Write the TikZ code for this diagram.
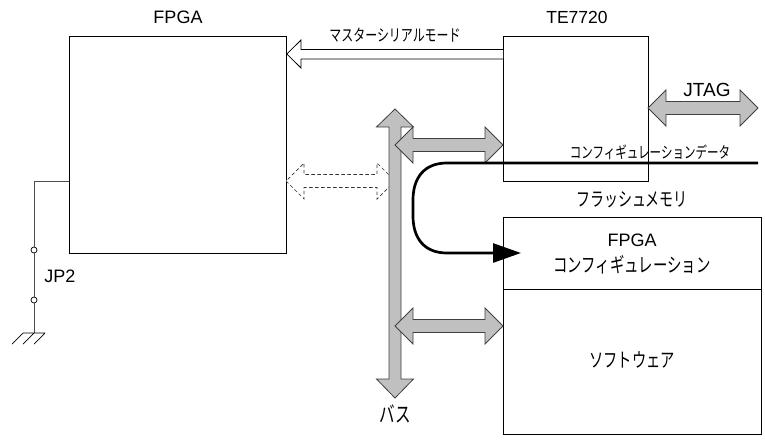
\documentclass[tikz,border=0pt]{standalone}
\usepackage{fontspec}
\setmainfont{Liberation Sans}
\newfontfamily\jpf[FakeStretch=0.72]{Noto Sans CJK JP}
\usetikzlibrary{arrows.meta}
\definecolor{busgray}{HTML}{C0C0C0}
\definecolor{busline}{HTML}{404040}
\tikzset{
  blockbox/.style={draw=black,line width=0.8pt,fill=white,inner sep=0pt,anchor=north west},
  lbl/.style={inner sep=0pt,text=black},
  wire/.style={draw=black!70,line width=0.9pt},
  pinhole/.style={circle,draw=black,line width=0.7pt,fill=white,inner sep=0pt,minimum size=6pt},
  fat/.style={draw=busline,line width=0.8pt,fill=busgray,line join=miter},
  hollow/.style={draw=black,line width=0.8pt,fill=white},
  dashfat/.style={draw=black!80,line width=0.7pt,fill=white,dash pattern=on 3.5pt off 2.5pt},
}
% horizontal double arrow: left tip, right tip, centre y, style
\newcommand{\hdouble}[4]{%
  \draw[#4] (#1,#3) -- (#1+18,#3-18) -- (#1+18,#3-6.5) -- (#2-18,#3-6.5) -- (#2-18,#3-18)
    -- (#2,#3) -- (#2-18,#3+18) -- (#2-18,#3+6.5) -- (#1+18,#3+6.5) -- (#1+18,#3+18) -- cycle;}
\begin{document}
\begin{tikzpicture}[x=1pt,y=1pt]
\useasboundingbox (0,0) rectangle (765,-439);
% boxes
\node[blockbox,minimum width=217pt,minimum height=217pt] (fpga) at (69,-36) {};
\node[blockbox,minimum width=145pt,minimum height=145pt] (te) at (503,-36) {};
\node[blockbox,minimum width=258pt,minimum height=72pt] (cfg) at (503,-217) {};
\node[blockbox,minimum width=258pt,minimum height=145pt] (sw) at (503,-289) {};
% titles
\node[lbl,font=\fontsize{18}{20}\selectfont] (tfpga) at (178,-17) {FPGA};
\node[lbl,font=\fontsize{17.5}{20}\selectfont] (tte) at (577,-17) {TE7720};
\node[lbl,font=\jpf\fontsize{16.6}{18}\selectfont] (tms) at (395,-35) {マスターシリアルモード};
\node[lbl,font=\fontsize{19}{21}\selectfont] (tjtag) at (707,-90) {JTAG};
\node[lbl,font=\jpf\fontsize{16}{18}\selectfont] (tcd) at (650,-152) {コンフィギュレーションデータ};
\node[lbl,font=\jpf\fontsize{19.4}{22}\selectfont] (tfm) at (632,-200) {フラッシュメモリ};
\node[lbl,font=\fontsize{18}{20}\selectfont] (tcfga) at (632,-240) {FPGA};
\node[lbl,font=\jpf\fontsize{20}{22}\selectfont] (tcfgb) at (632,-265) {コンフィギュレーション};
\node[lbl,font=\jpf\fontsize{19.8}{22}\selectfont] (tsw) at (632,-360) {ソフトウェア};
\node[lbl,font=\jpf\fontsize{21.6}{24}\selectfont] (tbus) at (395,-414) {バス};
\node[lbl,font=\fontsize{18}{20}\selectfont] (tjp) at (60,-276) {JP2};
% master serial arrow
\draw[hollow] (te.north west |- 0,-49.5) -- (301,-49.5) -- (301,-40) -- (fpga.north east |- 0,-54) -- (301,-68) -- (301,-59) -- (te.north west |- 0,-59);
% dashed double arrow
\hdouble{286}{395}{-181}{dashfat}
% bus
\draw[fat] (395,-109) -- (413.5,-127) -- (401,-127) -- (401,-379) -- (413.5,-379) -- (395,-398)
  -- (376.5,-379) -- (389,-379) -- (389,-127) -- (376.5,-127) -- cycle;
% bus branches
\hdouble{395}{503}{-145}{fat}
\hdouble{395}{503}{-326}{fat}
\hdouble{648}{758}{-108}{fat}
% configuration data path
\coordinate (cdstart) at (758,-163);
\coordinate (cdend) at (521,-253);
\draw[line width=2.7pt,-{Triangle[length=28pt,width=19pt]}] (cdstart) -- (447,-163)
  .. controls (424,-163) and (413,-178) .. (413,-200) -- (413,-216)
  .. controls (413,-238) and (424,-253) .. (447,-253) -- (cdend);
% JP2 wiring
\coordinate (wcorner) at (34,-181);
\node[pinhole] (p1) at (34,-250) {};
\node[pinhole] (p2) at (34,-300) {};
\coordinate (gnd) at (34,-333);
\draw[wire] (fpga.west |- wcorner) -- (wcorner) -- (p1);
\draw[wire] (p1) -- (p2);
\draw[wire] (p2) -- (gnd);
\draw[line width=0.7pt] (23,-333) -- (45,-333)
  (23,-333) -- (12,-344) (34,-333) -- (23,-344) (45,-333) -- (34,-344);
\end{tikzpicture}
\end{document}
